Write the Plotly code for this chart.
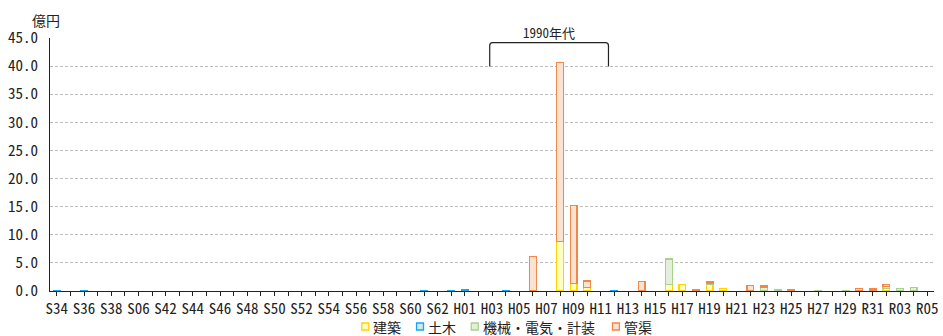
import plotly.graph_objects as go

# Fiscal-year categories (Showa / Heisei / Reiwa)
years = [
    "S34", "S35", "S36", "S37", "S38", "S39", "S06", "S41", "S42", "S43",
    "S44", "S45", "S46", "S47", "S48", "S49", "S50", "S51", "S52", "S53",
    "S54", "S55", "S56", "S57", "S58", "S59", "S60", "S61", "S62", "S63",
    "H01", "H02", "H03", "H04", "H05", "H06", "H07", "H08", "H09", "H10",
    "H11", "H12", "H13", "H14", "H15", "H16", "H17", "H18", "H19", "H20",
    "H21", "H22", "H23", "H24", "H25", "H26", "H27", "H28", "H29", "H30",
    "R31", "R02", "R03", "R04", "R05",
]

# Amounts in 億円 per category
kenchiku = [
    0, 0, 0, 0, 0, 0, 0, 0, 0, 0,
    0, 0, 0, 0, 0, 0, 0, 0, 0, 0,
    0, 0, 0, 0, 0, 0, 0, 0, 0, 0,
    0, 0, 0, 0, 0, 0, 0, 8.8, 1.3, 0.6,
    0, 0, 0, 0, 0, 1.1, 1.1, 0, 1.2, 0.4,
    0, 0, 0, 0, 0, 0, 0, 0, 0, 0,
    0, 0.4, 0, 0, 0,
]
doboku = [
    0.1, 0, 0.1, 0, 0, 0, 0, 0, 0, 0,
    0, 0, 0, 0, 0, 0, 0, 0, 0, 0,
    0, 0, 0, 0, 0, 0, 0, 0.1, 0, 0.1,
    0.3, 0, 0, 0.1, 0, 0, 0, 0, 0, 0,
    0, 0.1, 0, 0, 0, 0, 0, 0, 0, 0,
    0, 0, 0, 0, 0, 0, 0, 0, 0, 0,
    0, 0, 0, 0, 0,
]
kikai = [
    0, 0, 0, 0, 0, 0, 0, 0, 0, 0,
    0, 0, 0, 0, 0, 0, 0, 0, 0, 0,
    0, 0, 0, 0, 0, 0, 0, 0, 0, 0,
    0, 0, 0, 0, 0, 0, 0, 0, 0, 0,
    0, 0, 0, 0, 0, 4.6, 0, 0, 0.1, 0,
    0, 0, 0.6, 0.3, 0, 0, 0.1, 0, 0.1, 0,
    0, 0.4, 0.5, 0.6, 0,
]
kankyo = [
    0, 0, 0, 0, 0, 0, 0, 0, 0, 0,
    0, 0, 0, 0, 0, 0, 0, 0, 0, 0,
    0, 0, 0, 0, 0, 0, 0, 0, 0, 0,
    0, 0, 0, 0, 0, 6.1, 0, 31.8, 13.9, 1.2,
    0, 0, 0, 1.7, 0, 0, 0, 0.2, 0.3, 0,
    0, 1.0, 0.3, 0, 0.2, 0, 0, 0, 0, 0.5,
    0.35, 0.4, 0, 0, 0,
]

series_names = ["建築", "土木", "機械・電気・計装", "管渠"]
series_values = [kenchiku, doboku, kikai, kankyo]
fills = ["#FFFFC4", "#CFE8F8", "#E2F0D9", "#FBE3D3"]
edges = ["#FFD400", "#18A8E8", "#A9D18E", "#F0884A"]

# x labels on every other category
tick_text = [y if i % 2 == 0 else "" for i, y in enumerate(years)]

W, H = 943, 336
ML, MR, MT, MB = 50, 5, 38, 45
PW, PH = W - ML - MR, H - MT - MB


def px_x(px):
    return (px - ML) / PW


def px_y(py):
    return (H - MB - py) / PH


MONO = "Noto Sans Mono CJK JP, Noto Sans CJK JP, sans-serif"
CJK = "Noto Sans CJK JP, sans-serif"

fig = go.Figure()
for name, vals, fc, ec in zip(series_names, series_values, fills, edges):
    fig.add_trace(go.Bar(
        x=years,
        y=[v if v else None for v in vals],
        name=name,
        width=0.5,
        marker=dict(color=fc, line=dict(color=ec, width=1.3)),
        showlegend=False,
    ))

shapes = []
annotations = []

# 1990年代 bracket
bx0, bx1 = px_x(491.7), px_x(611)
by0, by1 = px_y(66.5), px_y(42.7)
rx, ry = 3 / PW, 3 / PH
shapes.append(dict(
    type="path", xref="paper", yref="paper",
    path=(f"M {bx0},{by0} L {bx0},{by1 - ry} Q {bx0},{by1} {bx0 + rx},{by1} "
          f"L {bx1 - rx},{by1} Q {bx1},{by1} {bx1},{by1 - ry} L {bx1},{by0}"),
    line=dict(color="#222222", width=1.2),
))
annotations.append(dict(
    text="1990年代", xref="paper", yref="paper",
    x=px_x(551), y=px_y(32.5), xanchor="center", yanchor="middle",
    showarrow=False, font=dict(family=MONO, size=13, color="#222222"),
))

# y-axis unit
annotations.append(dict(
    text="億円", xref="paper", yref="paper",
    x=px_x(46), y=px_y(20.5), xanchor="center", yanchor="middle",
    showarrow=False, font=dict(family=CJK, size=14, color="#222222"),
))

# legend: square swatch followed by label
legend_sq = [366.7, 421.7, 476.7, 618.5]
legend_cy = 326.5
for name, fc, ec, cx in zip(series_names, fills, edges, legend_sq):
    shapes.append(dict(
        type="rect", xref="paper", yref="paper",
        x0=px_x(cx - 3.5), x1=px_x(cx + 3.5),
        y0=px_y(legend_cy + 3.5), y1=px_y(legend_cy - 3.5),
        fillcolor=fc, line=dict(color=ec, width=1.3),
    ))
    annotations.append(dict(
        text=name, xref="paper", yref="paper",
        x=px_x(cx + 6), y=px_y(legend_cy), xanchor="left", yanchor="middle",
        showarrow=False, font=dict(family=CJK, size=14, color="#222222"),
    ))

fig.update_layout(
    width=W, height=H,
    margin=dict(l=ML, r=MR, t=MT, b=MB, pad=0),
    barmode="stack",
    plot_bgcolor="white", paper_bgcolor="white",
    shapes=shapes, annotations=annotations,
    showlegend=False,
    xaxis=dict(
        type="category", categoryorder="array", categoryarray=years,
        tickmode="array", tickvals=years, ticktext=tick_text,
        ticks="outside", ticklen=4, tickcolor="#222222", tickwidth=1,
        showline=True, linecolor="#222222", linewidth=1,
        showgrid=False, tickangle=0,
        tickfont=dict(family=MONO, size=15, color="#222222"),
    ),
    yaxis=dict(
        range=[0, 45], dtick=5, tick0=0, tickformat=".1f",
        showline=True, linecolor="#222222", linewidth=1,
        showgrid=True, gridcolor="#BDBDBD", gridwidth=1, griddash="3px,2px",
        zeroline=False, ticks="", ticklabelstandoff=8,
        tickfont=dict(family=MONO, size=15, color="#222222"),
    ),
)

fig.write_html("out.html")
